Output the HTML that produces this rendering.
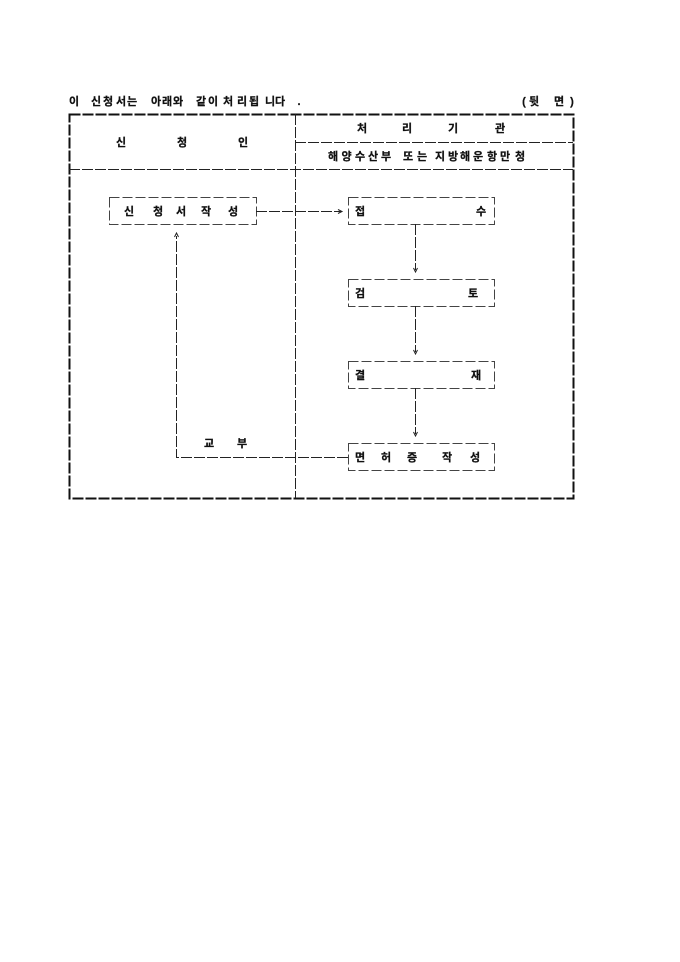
<!DOCTYPE html>
<html lang="ko"><head><meta charset="utf-8"><title>처리 절차</title>
<style>
html,body{margin:0;padding:0;background:#fff;width:680px;height:962px;overflow:hidden}
svg{display:block}
text{font-family:"Liberation Sans","Noto Sans CJK KR","NanumGothic",sans-serif;font-weight:700;font-size:11px;fill:#111;stroke:#111;stroke-width:.25;text-anchor:middle;dominant-baseline:central}
.o{stroke:#111;stroke-width:2;fill:none;stroke-dasharray:11 2}
.i{stroke:#222;stroke-width:1;fill:none;stroke-dasharray:11 2}
.b{stroke:#444;stroke-width:1;fill:none;stroke-dasharray:10 3}
.a{stroke:#222;stroke-width:1;fill:none}
</style></head><body>
<svg width="680" height="962" viewBox="0 0 680 962" xmlns="http://www.w3.org/2000/svg">
<rect x="69.5" y="114.5" width="504" height="384" class="o"/>
<path class="i" d="M295.5 114V498M69 169.500H573M295 142.500H573"/>
<rect x="109.5" y="197.5" width="147" height="27" class="b"/>
<rect x="348.5" y="197.5" width="146" height="27" class="b"/>
<rect x="348.5" y="279.5" width="146" height="27" class="b"/>
<rect x="348.5" y="361.5" width="146" height="27" class="b"/>
<rect x="348.5" y="443.5" width="146" height="27" class="b"/>
<path class="i" d="M256 211.500H341M415.500 224V270M415.500 306V352M415.500 388V434M348 457.500H176.500V236"/>
<path class="a" d="M338 209.500L342 211.500L338 213.500M413.500 268L415.500 272L417.500 268M413.500 350L415.500 354L417.500 350M413.500 432L415.500 436L417.500 432M174.500 237L176.500 233L178.500 237"/>
<g>
<text x="74" y="102">이</text><text x="96" y="102">신</text><text x="108" y="102">청</text><text x="121" y="102">서</text><text x="132" y="102">는</text><text x="156" y="102">아</text><text x="167" y="102">래</text><text x="178" y="102">와</text><text x="201" y="102">같</text><text x="213" y="102">이</text><text x="228" y="102">처</text><text x="242" y="102">리</text><text x="254" y="102">됩</text><text x="270" y="102">니</text><text x="280" y="102">다</text><text x="299" y="102">.</text>
<text x="524" y="102">(</text><text x="534" y="102">뒷</text><text x="559" y="102">면</text><text x="572" y="102">)</text>
<text x="121" y="143">신</text><text x="182" y="143">청</text><text x="243" y="143">인</text>
<text x="362" y="129">처</text><text x="407" y="129">리</text><text x="453" y="129">기</text><text x="500" y="129">관</text>
<text x="333" y="157">해</text><text x="346.500" y="157">양</text><text x="360" y="157">수</text><text x="373" y="157">산</text><text x="386" y="157">부</text><text x="408" y="157">또</text><text x="422" y="157">는</text><text x="440" y="157">지</text><text x="453" y="157">방</text><text x="465" y="157">해</text><text x="478" y="157">운</text><text x="492" y="157">항</text><text x="505" y="157">만</text><text x="520" y="157">청</text>
<text x="129" y="212">신</text><text x="158" y="212">청</text><text x="181" y="212">서</text><text x="206" y="212">작</text><text x="233" y="212">성</text>
<text x="360" y="212">접</text><text x="481" y="212">수</text>
<text x="360" y="294">검</text><text x="473" y="294">토</text>
<text x="360" y="376">결</text><text x="476" y="376">재</text>
<text x="360" y="458">면</text><text x="386" y="458">허</text><text x="412" y="458">증</text><text x="447" y="458">작</text><text x="475" y="458">성</text>
<text x="209" y="444">교</text><text x="242" y="444">부</text>
</g>
</svg>
</body></html>
